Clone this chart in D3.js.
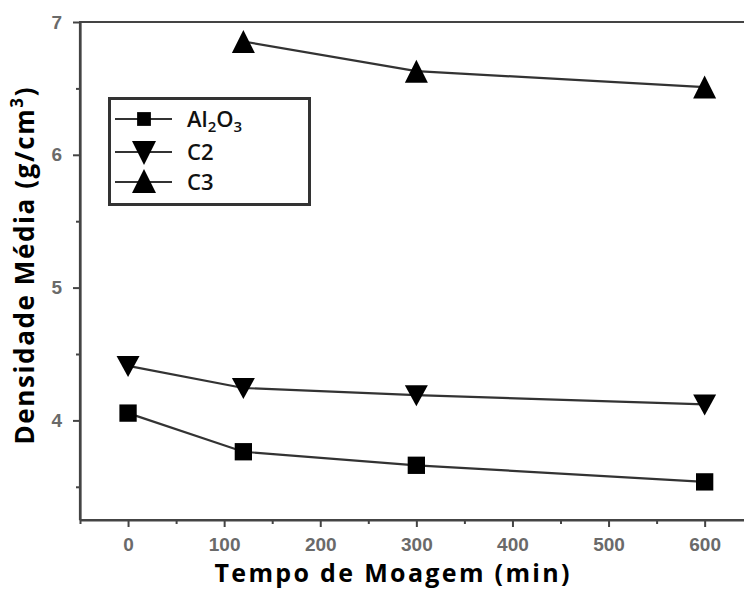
<!DOCTYPE html>
<html><head><meta charset="utf-8">
<script src="https://cdn.jsdelivr.net/npm/d3@7"></script>
<style>body{margin:0;background:#fff}svg{display:block}</style>
</head><body>
<svg id="c" width="744" height="591"></svg>
<script>
const times = [0, 120, 300, 600];
const al2o3 = [4.055, 3.764, 3.662, 3.537];
const c2 = [4.41, 4.244, 4.19, 4.12];
const c3 = [null, 6.853, 6.63, 6.51];
const xTicks = [0, 100, 200, 300, 400, 500, 600];
const yTicks = [4, 5, 6, 7];
const seriesNames = ["Al2O3", "C2", "C3"];

const svg = d3.select("#c");
const x = d3.scaleLinear().domain([-50, 650]).range([80, 752.7]);
const y = d3.scaleLinear().domain([3.25, 7]).range([520, 22]);
const axCol = "#444";

const gx = svg.append("g").attr("transform", "translate(0,520)")
  .call(d3.axisBottom(x).tickValues(xTicks).tickSize(7).tickSizeOuter(0).tickPadding(11));
const gxm = svg.append("g").attr("transform", "translate(0,520)")
  .call(d3.axisBottom(x).tickValues([-50,50,150,250,350,450,550,650]).tickSize(4).tickFormat("").tickSizeOuter(0));
const gy = svg.append("g").attr("transform", "translate(80,0)")
  .call(d3.axisLeft(y).tickValues(yTicks).tickSize(7).tickSizeOuter(0).tickPadding(11).tickFormat(d3.format("d")));
const gym = svg.append("g").attr("transform", "translate(80,0)")
  .call(d3.axisLeft(y).tickValues([3.5,4.5,5.5,6.5]).tickSize(4).tickFormat("").tickSizeOuter(0));
[gx, gxm, gy, gym].forEach(g => {
  g.select(".domain").attr("stroke", axCol).attr("stroke-width", 2.2);
  g.selectAll(".tick line").attr("stroke", axCol).attr("stroke-width", 2);
  g.selectAll(".tick text").attr("fill", "#6a6a6a").attr("font-family", "Liberation Sans, Arial, sans-serif")
    .attr("font-weight", "bold").attr("font-size", 19);
});
gx.select(".domain").attr("d", "M80,0H744");
gy.select(".domain").attr("d", "M0,520V22");
svg.append("line").attr("x1", 79).attr("x2", 744).attr("y1", y(7)).attr("y2", y(7))
  .attr("stroke", axCol).attr("stroke-width", 2.2);

const sq = d3.symbol().type(d3.symbolSquare).size(300);
function shapeFor(i) { return i === 0 ? sq() : (i === 1 ? "M0,11L11.5,-10L-11.5,-10Z" : "M0,-11.5L11.5,11.5L-11.5,11.5Z"); }

const all = [al2o3, c2, c3];
const line = d3.line().x(d => x(d[0])).y(d => y(d[1]));
all.forEach((vals, i) => {
  const pts = times.map((t, j) => [t, vals[j]]).filter(d => d[1] != null);
  svg.append("path").attr("d", line(pts)).attr("fill", "none").attr("stroke", "#333").attr("stroke-width", 2.2);
  svg.selectAll(null).data(pts).enter().append("path")
    .attr("d", shapeFor(i))
    .attr("transform", d => `translate(${x(d[0])},${y(d[1])})`)
    .attr("fill", "#000");
});

// legend
const lg = svg.append("g");
lg.append("rect").attr("x", 109.5).attr("y", 98.5).attr("width", 200).attr("height", 106)
  .attr("fill", "#fff").attr("stroke", "#333").attr("stroke-width", 3);
const rowsY = [119, 152, 182];
seriesNames.forEach((n, i) => {
  lg.append("line").attr("x1", 115).attr("x2", 172).attr("y1", rowsY[i]).attr("y2", rowsY[i])
    .attr("stroke", "#333").attr("stroke-width", 2.2);
  lg.append("path").attr("d", i === 0 ? d3.symbol().type(d3.symbolSquare).size(190)() : (i === 1 ? "M0,13L12,-11L-12,-11Z" : "M0,-13L12,11L-12,11Z"))
    .attr("transform", `translate(144,${rowsY[i]})`).attr("fill", "#000");
  const t = lg.append("text").attr("x", 187).attr("y", rowsY[i] + 8)
    .attr("font-family", "Open Sans, sans-serif").attr("font-weight", "600").attr("font-size", 22).attr("fill", "#111");
  if (i === 0) {
    t.append("tspan").text("Al");
    t.append("tspan").text("2").attr("font-size", 15).attr("dy", 5);
    t.append("tspan").text("O").attr("dy", -5);
    t.append("tspan").text("3").attr("font-size", 15).attr("dy", 5);
  } else t.text(n);
});

// axis titles
svg.append("text").attr("x", 392).attr("y", 582).attr("text-anchor", "middle")
  .attr("font-family", "Open Sans, sans-serif").attr("font-weight", "bold").attr("font-size", 25).attr("fill", "#000")
  .attr("textLength", 355).attr("lengthAdjust", "spacing")
  .text("Tempo de Moagem (min)");
const yt = svg.append("text").attr("transform", "translate(34,266) rotate(-90)").attr("text-anchor", "middle")
  .attr("font-family", "Open Sans, sans-serif").attr("font-weight", "bold").attr("font-size", 26).attr("fill", "#000")
  .attr("textLength", 357).attr("lengthAdjust", "spacing");
yt.append("tspan").text("Densidade Média (g/cm");
yt.append("tspan").text("3").attr("font-size", 17).attr("dy", -11);
yt.append("tspan").text(")").attr("dy", 11);
</script>
</body></html>
